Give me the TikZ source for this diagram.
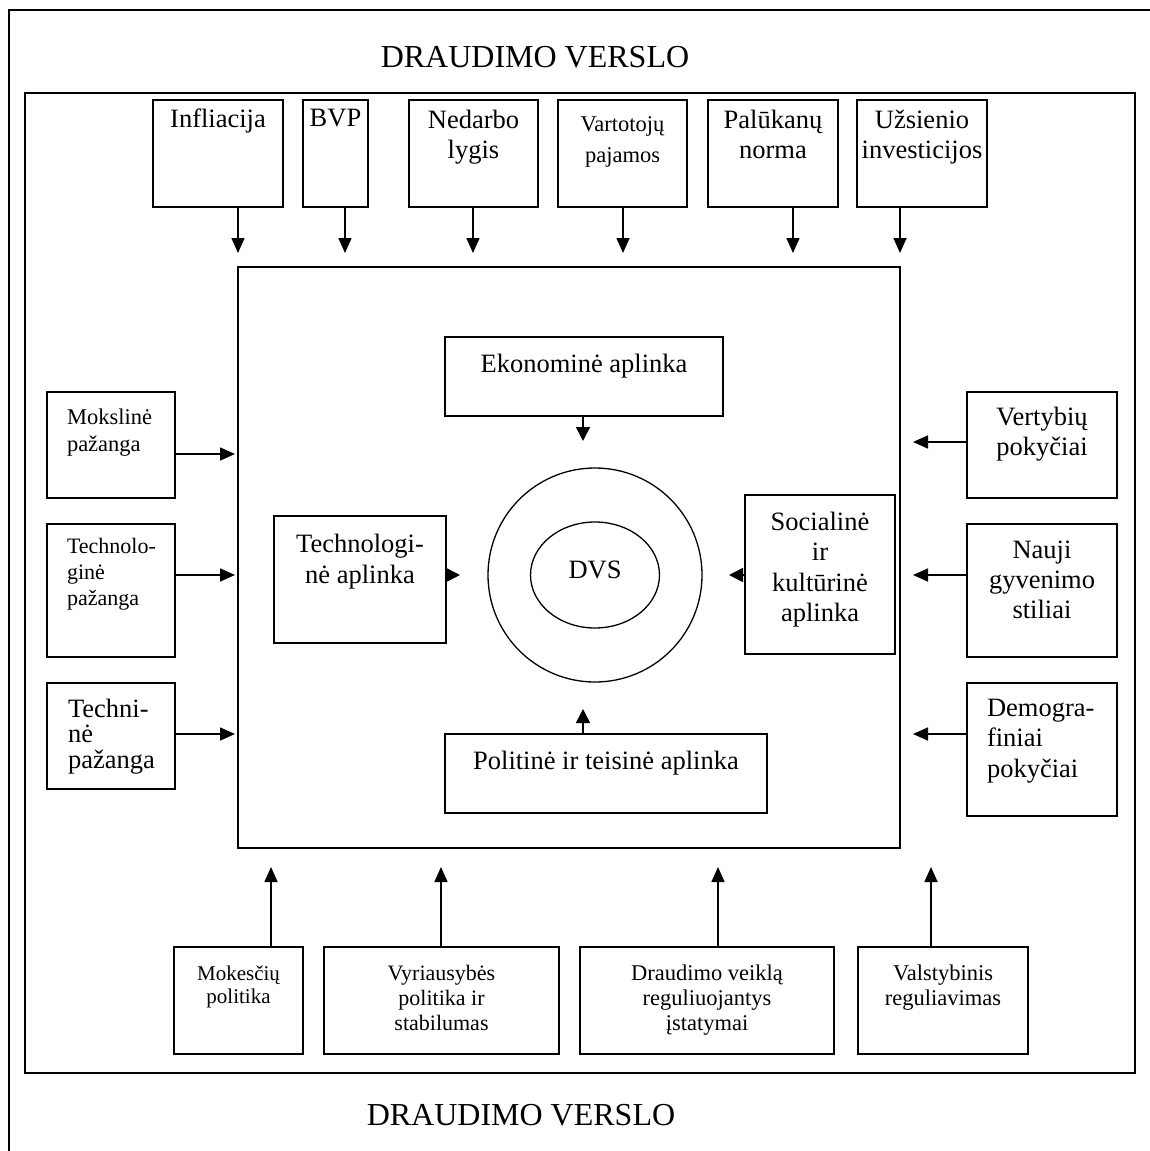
\documentclass[tikz,border=0pt]{standalone}
\usepackage{fontspec}
\setmainfont{Liberation Serif}
\usetikzlibrary{arrows.meta,shapes.geometric}
% centred text at the top of a box: width, height, top pad, size, skip, text
\newcommand{\bxt}[6]{\parbox[c][#2pt][t]{#1pt}{\vspace*{#3pt}\fontsize{#4pt}{#5pt}\selectfont\centering #6\par}}
% left aligned text: width, height, pad, size, skip, indent, text
\newcommand{\bxl}[7]{\parbox[c][#2pt][t]{#1pt}{\vspace*{#3pt}\fontsize{#4pt}{#5pt}\selectfont\raggedright\leftskip=#6pt\relax #7\par}}
\tikzset{
  box/.style={draw, line width=1.6pt, inner sep=0pt, outer sep=0pt, anchor=north west},
  frame/.style={draw, line width=1.6pt, inner sep=0pt, outer sep=0pt, anchor=north west},
  arr/.style={line width=1.6pt, -{Triangle[length=15pt,width=13pt]}},
  arrs/.style={line width=1.6pt, -{Triangle[length=14pt,width=14pt]}},
  titletext/.style={font=\fontsize{32pt}{36pt}\selectfont, inner sep=0pt, anchor=base}
}
\begin{document}
\begin{tikzpicture}[x=1pt,y=-1pt]
\useasboundingbox (0,0) rectangle (1150,1151);
% frames
\node[frame, minimum width=1200pt, minimum height=1200pt] (outer) at (9,10) {};
\node[frame, minimum width=1110pt, minimum height=980pt] (inner) at (25,93) {};
\node[frame, minimum width=662pt, minimum height=581pt] (env) at (238,267) {};
% titles
\node[titletext] (ttop) at (535,67) {DRAUDIMO VERSLO};
\node[titletext] (tbot) at (521,1125) {DRAUDIMO VERSLO};
% top row
\node[box] (infl) at (153,100) {\bxt{130}{107}{9}{26.5}{30.5}{Infliacija}};
\node[box] (bvp)  at (303,100) {\bxt{65}{107}{9}{26.5}{30.5}{BVP}};
\node[box] (ned)  at (409,100) {\bxt{129}{107}{10}{26.5}{30}{Nedarbo\\lygis}};
\node[box] (vart) at (558,100) {\bxt{129}{107}{16.7}{22.5}{31}{Vartotojų\\pajamos}};
\node[box] (pal)  at (708,100) {\bxt{130}{107}{10}{26.5}{30}{Palūkanų\\norma}};
\node[box] (uzs)  at (857,100) {\bxt{130}{107}{10}{26.5}{30}{Užsienio\\investicijos}};
% left column
\node[box] (mok)   at (47,392) {\bxl{128}{106}{17}{22.5}{27}{20}{Mokslinė\\pažanga}};
\node[box] (tech)  at (47,524) {\bxl{128}{133}{14}{22}{26}{20}{Technolo-\\ginė\\pažanga}};
\node[box] (techn) at (47,683) {\bxl{128}{106}{16}{26.5}{25.5}{21}{Techni-\\nė\\pažanga}};
% right column
\node[box] (vert)  at (967,392) {\bxt{150}{106}{15}{26.5}{30}{Vertybių\\pokyčiai}};
\node[box] (nauji) at (967,524) {\bxt{150}{133}{17}{26.5}{30}{Nauji\\gyvenimo\\stiliai}};
\node[box] (demo)  at (967,683) {\bxl{150}{133}{16}{26.5}{30.5}{20}{Demogra-\\finiai\\pokyčiai}};
% centre
\node[box] (eko)     at (445,337) {\bxt{278}{79}{17}{26.5}{30.5}{Ekonominė aplinka}};
\node[box] (techapl) at (274,516) {\bxt{172}{127}{18}{26.5}{31}{Technologi-\\nė aplinka}};
\node[box] (soc)     at (745,495) {\bxt{150}{159}{17}{26.5}{30.5}{Socialinė\\ir\\kultūrinė\\aplinka}};
\node[box] (pol)     at (445,734) {\bxt{322}{79}{17}{26.5}{30.5}{Politinė ir teisinė aplinka}};
\node[circle, draw, line width=1.3pt, minimum size=214pt, inner sep=0pt] (ring) at (595,575) {};
\node[ellipse, draw, line width=1.3pt, minimum width=129pt, minimum height=106pt, inner sep=0pt,
  label={[anchor=base, yshift=5pt, inner sep=0pt, font=\fontsize{26.5pt}{30pt}\selectfont]center:DVS}] (dvs) at (595,575) {};
% bottom row
\node[box] (mokp)  at (174,947) {\bxt{129}{107}{18.7}{21}{23.5}{Mokesčių\\politika}};
\node[box] (vyr)   at (324,947) {\bxt{235}{107}{18}{22}{25}{Vyriausybės\\politika ir\\stabilumas}};
\node[box] (drau)  at (580,947) {\bxt{254}{107}{17.7}{22.5}{25}{Draudimo veiklą\\reguliuojantys\\įstatymai}};
\node[box] (valst) at (858,947) {\bxt{170}{107}{17.7}{22.5}{25}{Valstybinis\\reguliavimas}};
% arrow tips
\coordinate (a1) at (238,253);
\coordinate (a2) at (345,253);
\coordinate (a3) at (473,253);
\coordinate (a4) at (623,253);
\coordinate (a5) at (793,253);
\coordinate (a6) at (900,253);
\coordinate (l1) at (235,454);
\coordinate (l2) at (235,575);
\coordinate (l3) at (235,734);
\coordinate (r1) at (913,442);
\coordinate (r2) at (913,575);
\coordinate (r3) at (913,734);
\coordinate (b1) at (271,867);
\coordinate (b2) at (441,867);
\coordinate (b3) at (718,867);
\coordinate (b4) at (931,867);
\coordinate (ce) at (583,441);
\coordinate (cp) at (583,709);
\coordinate (ct) at (460,575);
\coordinate (cs) at (729,575);
% arrows
\draw[arr] (infl.south -| a1) -- (a1);
\draw[arr] (bvp.south -| a2) -- (a2);
\draw[arr] (ned.south -| a3) -- (a3);
\draw[arr] (vart.south -| a4) -- (a4);
\draw[arr] (pal.south -| a5) -- (a5);
\draw[arr] (uzs.south -| a6) -- (a6);
\draw[arr] (mok.east |- l1) -- (l1);
\draw[arr] (tech.east |- l2) -- (l2);
\draw[arr] (techn.east |- l3) -- (l3);
\draw[arr] (vert.west |- r1) -- (r1);
\draw[arr] (nauji.west |- r2) -- (r2);
\draw[arr] (demo.west |- r3) -- (r3);
\draw[arr] (mokp.north -| b1) -- (b1);
\draw[arr] (vyr.north -| b2) -- (b2);
\draw[arr] (drau.north -| b3) -- (b3);
\draw[arr] (valst.north -| b4) -- (b4);
\draw[arrs] (eko.south -| ce) -- (ce);
\draw[arrs] (pol.north -| cp) -- (cp);
\draw[arrs] (techapl.east |- ct) -- (ct);
\draw[arrs] (soc.west |- cs) -- (cs);
\end{tikzpicture}
\end{document}
